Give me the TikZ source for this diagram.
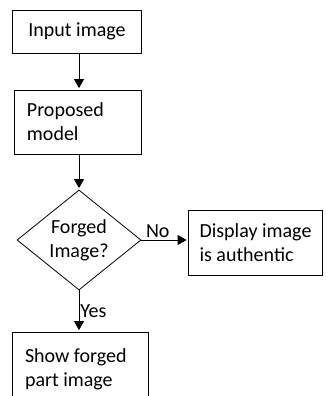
\documentclass[tikz,border=0pt]{standalone}
\usepackage{fontspec}
\setmainfont{Carlito}
\usetikzlibrary{shapes.geometric, positioning, calc, arrows.meta}

\tikzset{
  blockbox/.style={draw, thick, rectangle, inner xsep=13pt, inner ysep=0pt, align=flush left},
  decisionbox/.style={draw, thick, diamond, inner sep=0pt, aspect=1.24, align=center,
    minimum width=124pt, minimum height=100pt},
  flowarrow/.style={thick, -{Triangle[width=10pt,length=9pt]}, shorten >=1.5pt},
}

\begin{document}
\begin{tikzpicture}[x=1pt, y=-1pt, font=\fontsize{20}{24}\selectfont]

        % 1. Page frame (clips the bottom box like the original)
        \useasboundingbox (0,0) rectangle (325,396);
        \clip (0,0) rectangle (325,396);

        % 2. Main column of blocks
        \node[blockbox, align=center, minimum width=129pt, minimum height=43pt] (input) at (77,31.5) {Input image};
        \node[blockbox, text width=101pt, minimum height=64pt] (model) at (77.5,122) {Proposed\\model};
        \node[decisionbox] (forged) at (79,240) {Forged\\Image?};
        \node[blockbox, text width=110pt, minimum height=74pt] (show) at (80,369) {Show forged\\part image};

        % 3. Side branch
        \node[blockbox, align=left, inner xsep=6pt, minimum width=134pt, minimum height=65pt] (display) at (255.5,242.5) {Display image\\is authentic};

        % 4. Connectors
        \draw[flowarrow] (input.south -| forged.north) -- (forged.north |- model.north);
        \draw[flowarrow] (model.south -| forged.north) -- (forged.north);
        \draw[flowarrow] (forged.east) -- node[above, pos=0.35, inner sep=2pt] (nolbl) {No} (display.west |- forged.east);
        \draw[flowarrow] (forged.south) -- node[right, inner sep=1pt] (yeslbl) {Yes} (forged.south |- show.north);

    \end{tikzpicture}
\end{document}
